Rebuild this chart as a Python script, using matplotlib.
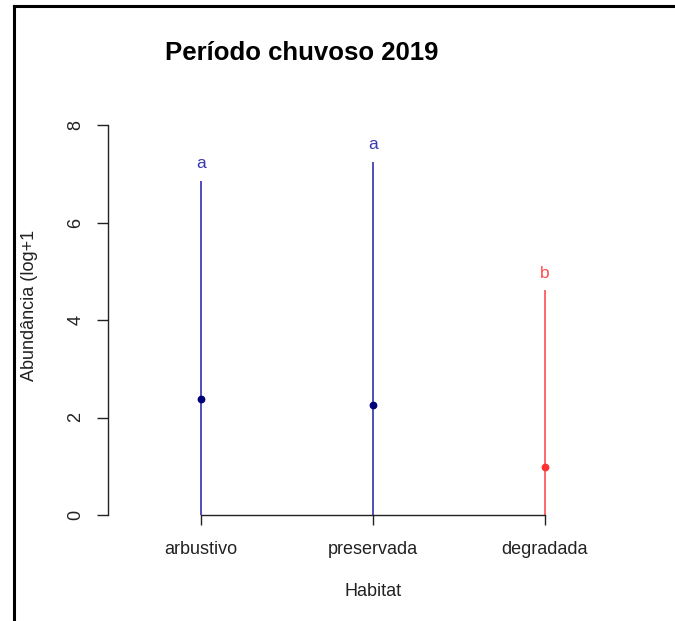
import matplotlib
matplotlib.use("Agg")
import matplotlib.pyplot as plt
from matplotlib.lines import Line2D

plt.rcParams['font.family'] = ['Liberation Sans', 'DejaVu Sans']

# Data
habitats = ["arbustivo", "preservada", "degradada"]
means = [2.38, 2.26, 0.98]
upper = [6.85, 7.24, 4.62]
lower = [0.0, 0.0, 0.0]
letters = ["a", "a", "b"]
letter_y = [7.22, 7.59, 4.96]
line_colors = ["#1f1fa6", "#1f1fa6", "#ff4040"]
point_colors = ["#00007a", "#00007a", "#ff3030"]
letter_colors = ["#3a3ab0", "#3a3ab0", "#ff4a4a"]
yticks = [0, 2, 4, 6, 8]

W, H = 675, 621
fig = plt.figure(figsize=(W / 100, H / 100), dpi=100)
ax = fig.add_axes([108 / W, 1 - 515 / H, (640 - 108) / W, (515 - 125) / H])

xs = list(range(1, len(habitats) + 1))
for x, m, lo, hi, lc, pc in zip(xs, means, lower, upper, line_colors, point_colors):
    ax.plot([x, x], [lo, hi], color=lc, lw=1.1, solid_capstyle='butt', zorder=2)
    ax.plot([x], [m], 'o', color=pc, markersize=4.6, zorder=3)

for x, t, ty, c in zip(xs, letters, letter_y, letter_colors):
    ax.text(x, ty, t, color=c, fontsize=12.5, ha='center', va='center')

ax.set_xlim(1 - 93 / 172, 3 + 95 / 172)
ax.set_ylim(0, 8)

for s in ['top', 'right']:
    ax.spines[s].set_visible(False)
ax.spines['left'].set_bounds(0, 8)
ax.spines['bottom'].set_bounds(1, 3)
for s in ['left', 'bottom']:
    ax.spines[s].set_linewidth(1.0)
    ax.spines[s].set_color('#222222')

ax.set_yticks(yticks)
ax.set_yticklabels([str(v) for v in yticks], rotation=90, va='center', fontsize=13)
ax.set_xticks(xs)
ax.set_xticklabels(habitats, fontsize=13)
ax.tick_params(axis='y', length=8, width=1.0, pad=9, colors='#222222', labelcolor='#222222')
ax.tick_params(axis='x', length=7.5, width=1.0, pad=11, colors='#222222', labelcolor='#222222')
ax.patch.set_alpha(0)

fig.text(302 / W, 1 - 53 / H, "Período chuvoso 2019", fontsize=18.5, fontweight='bold',
         ha='center', va='center')
fig.text(373 / W, 1 - 592 / H, "Habitat", fontsize=13, ha='center', va='center', color='#222222')
fig.text(30 / W, 1 - 305 / H, "Abundância (log+1", fontsize=13, rotation=90,
         ha='center', va='center', color='#222222')

# Outer frame (left and top edges)
fig.add_artist(Line2D([14 / W, 14 / W], [0, 1 - 6 / H], transform=fig.transFigure,
                      color='black', lw=2.2))
fig.add_artist(Line2D([14 / W, 1], [1 - 6 / H, 1 - 6 / H], transform=fig.transFigure,
                      color='black', lw=2.2))

fig.savefig("out.png", dpi=100)
